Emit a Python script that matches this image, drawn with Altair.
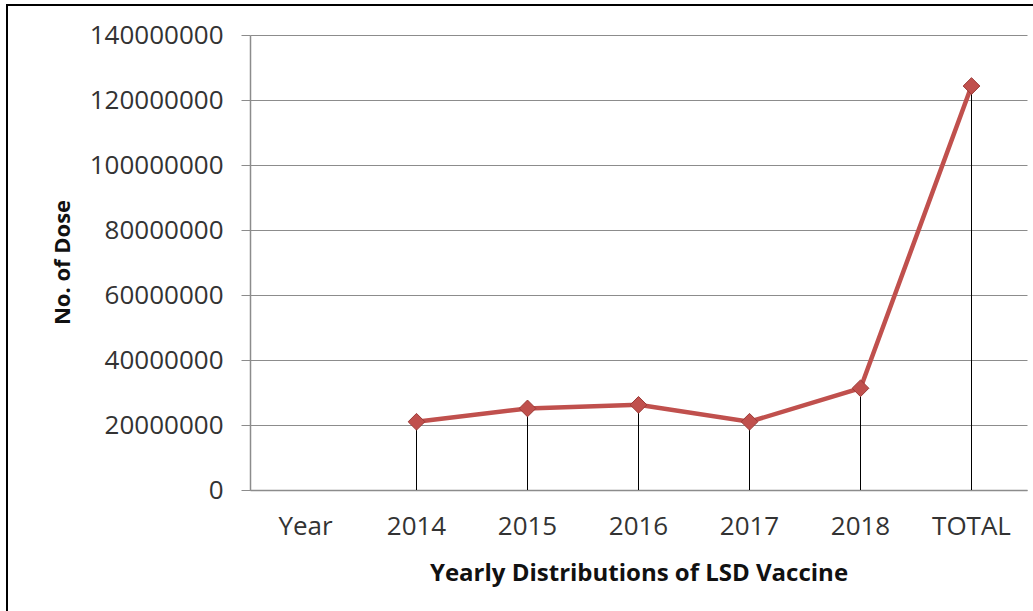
import altair as alt
import pandas as pd

categories = ["Year", "2014", "2015", "2016", "2017", "2018", "TOTAL"]
doses = [None, 21000000, 25100000, 26200000, 21000000, 31300000, 124300000]
y_ticks = [0, 20000000, 40000000, 60000000, 80000000, 100000000, 120000000, 140000000]

df = pd.DataFrame({"cat": categories, "dose": doses})
df_valid = df.dropna()

FONT = "Open Sans"
RED = "#C0504D"

x_enc = alt.X(
    "cat:N",
    sort=categories,
    scale=alt.Scale(domain=categories, paddingInner=0, paddingOuter=0),
    axis=alt.Axis(
        title="Yearly Distributions of LSD Vaccine",
        labelAngle=0,
        labelFont=FONT,
        labelFontSize=26,
        labelColor="#333333",
        labelPadding=23,
        ticks=False,
        domainColor="#8c8c8c",
        domainWidth=1.5,
        titleFont=FONT,
        titleFontSize=24,
        titleFontWeight="bold",
        titleColor="#111111",
        titleY=83,
        titleBaseline="middle",
    ),
)

y_scale = alt.Scale(domain=[0, 140000000], nice=False)
y_axis = alt.Axis(
    title="No. of Dose",
    values=y_ticks,
    format="d",
    labelFont=FONT,
    labelFontSize=26,
    labelColor="#333333",
    labelPadding=18,
    tickSize=9,
    tickColor="#8c8c8c",
    domainColor="#8c8c8c",
    domainWidth=1.5,
    gridColor="#8c8c8c",
    gridWidth=1,
    titleFont=FONT,
    titleFontSize=22,
    titleFontWeight="bold",
    titleColor="#111111",
    titleX=-188,
    titleY=227,
    titleAlign="center",
    titleBaseline="middle",
    titleAngle=270,
)

base = alt.Chart(df_valid)

grid = alt.Chart(df).mark_point(opacity=0).encode(
    x=x_enc,
    y=alt.Y("dose:Q", scale=y_scale, axis=y_axis),
)

drops = base.mark_rule(color="#000000", strokeWidth=1).encode(
    x=alt.X("cat:N", sort=categories),
    y=alt.Y("dose:Q", scale=y_scale),
    y2=alt.datum(0),
)

line = base.mark_line(color=RED, strokeWidth=4.5).encode(
    x=alt.X("cat:N", sort=categories),
    y=alt.Y("dose:Q", scale=y_scale),
)

points = base.mark_point(
    shape="diamond", size=280, filled=True, color=RED, stroke="#9c3a37", strokeWidth=1, opacity=1
).encode(
    x=alt.X("cat:N", sort=categories),
    y=alt.Y("dose:Q", scale=y_scale),
)

frame = alt.Chart(pd.DataFrame({"a": [0]})).mark_rect(
    fill=None, stroke="#000000", strokeWidth=2, clip=False
).encode(
    x=alt.value(-243), x2=alt.value(800), y=alt.value(-30), y2=alt.value(600)
)

chart = alt.layer(grid, drops, line, points, frame).properties(
    width=777,
    height=455,
    autosize=alt.AutoSizeParams(type="none"),
    padding={"left": 250, "top": 35, "right": 6, "bottom": 121},
    background="white",
).configure_view(stroke=None)

chart.save("out.html", embed_options={"renderer": "svg", "actions": False})
